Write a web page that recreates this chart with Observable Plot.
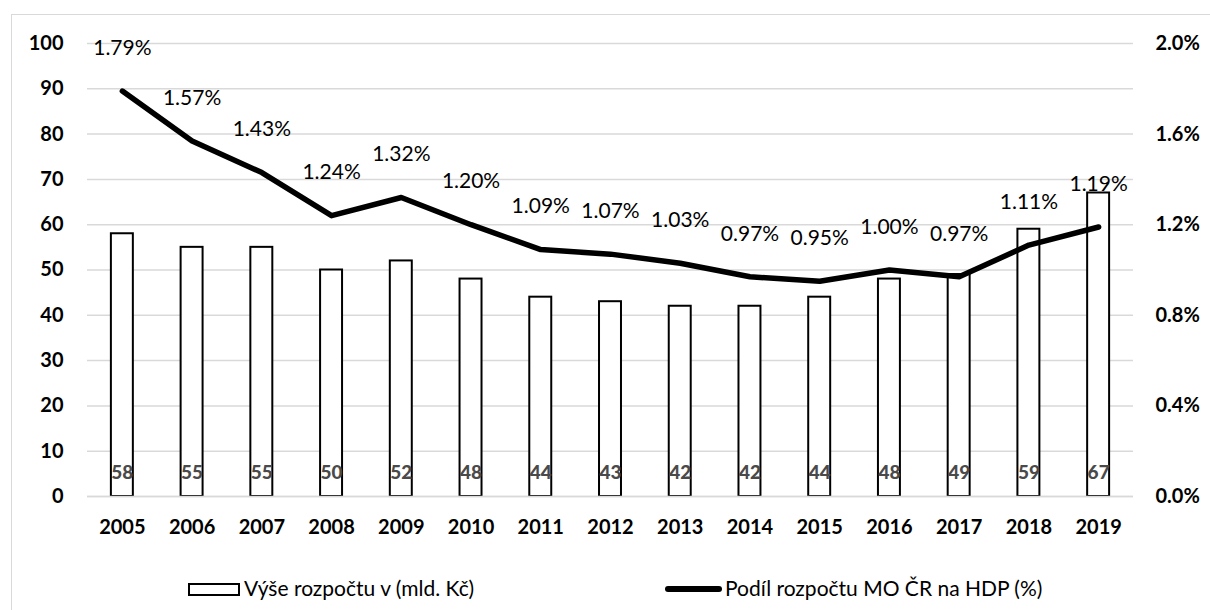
<!DOCTYPE html>
<html>
<head>
<meta charset="utf-8">
<script src="https://cdn.jsdelivr.net/npm/d3@7"></script>
<script src="https://cdn.jsdelivr.net/npm/@observablehq/plot@0.6"></script>
<style>
  html, body { margin: 0; padding: 0; background: #fff; width: 1210px; height: 610px; overflow: hidden; }
  body { position: relative; font-family: Lato, "Open Sans", sans-serif; }
  #frame { position: absolute; left: 11px; top: 14px; width: 1300px; height: 700px; border: 1px solid #d9d9d9; box-sizing: border-box; }
  #chart { position: absolute; left: 0; top: 0; }
  #legend { position: absolute; left: 0; top: 550px; width: 1210px; height: 60px; font-size: 21px; color: #000; }
  .lg-rect { position: absolute; left: 188px; top: 33px; width: 52px; height: 13px; border: 2px solid #000; box-sizing: border-box; background: #fff; }
  .lg-line { position: absolute; left: 665px; top: 36px; width: 57px; height: 6px; background: #000; border-radius: 3px; }
  .lg-text { position: absolute; top: 25px; line-height: 26px; white-space: nowrap; }
  .barlab { font-weight: 900; }
</style>
</head>
<body>
<div id="frame"></div>
<div id="chart"></div>
<div id="legend">
  <div class="lg-rect"></div><div class="lg-text" style="left:244px">Výše rozpočtu v (mld. Kč)</div>
  <div class="lg-line"></div><div class="lg-text" style="left:725px">Podíl rozpočtu MO ČR na HDP (%)</div>
</div>
<script>
const years = ["2005","2006","2007","2008","2009","2010","2011","2012","2013","2014","2015","2016","2017","2018","2019"];
const budget = [58, 55, 55, 50, 52, 48, 44, 43, 42, 42, 44, 48, 49, 59, 67];
const share = [1.79, 1.57, 1.43, 1.24, 1.32, 1.20, 1.09, 1.07, 1.03, 0.97, 0.95, 1.00, 0.97, 1.11, 1.19];
const leftTicks = [0, 10, 20, 30, 40, 50, 60, 70, 80, 90, 100];
const rightTicks = [0, 0.4, 0.8, 1.2, 1.6, 2.0];
const shareMax = 2.0, budgetMax = 100;
const k = budgetMax / shareMax;

const data = years.map((y, i) => ({year: y, budget: budget[i], share: share[i]}));

const chart = Plot.plot({
  width: 1210,
  height: 550,
  marginLeft: 87,
  marginRight: 77,
  marginTop: 43,
  marginBottom: 54,
  style: {fontFamily: "Lato, 'Open Sans', sans-serif", background: "transparent", color: "#000"},
  x: {domain: years, paddingInner: 0.685, paddingOuter: 0.3425, round: false, label: null},
  y: {domain: [0, budgetMax], label: null},
  marks: [
    Plot.gridY(leftTicks, {stroke: "#d9d9d9", strokeOpacity: 1, strokeWidth: 1.5}),
    Plot.barY(data, {x: "year", y: "budget", fill: "#fff", stroke: "#000", strokeWidth: 2}),
    Plot.ruleY([0], {stroke: "#d9d9d9", strokeWidth: 1.5}),
    Plot.text(data, {x: "year", y: () => 0, text: d => String(d.budget), dy: -24, fill: "#4a4a4a", fontWeight: 900, fontSize: 19, className: "barlab"}),
    Plot.line(data, {x: "year", y: d => d.share * k, stroke: "#000", strokeWidth: 5.5, strokeLinejoin: "round", strokeLinecap: "round"}),
    Plot.text(data, {x: "year", y: d => d.share * k, text: d => d.share.toFixed(2) + "%", dy: -43, fill: "#000", fontSize: 21}),
    Plot.axisX({tickSize: 0, tickPadding: 23, fontSize: 20, fontWeight: "bold", label: null}),
    Plot.axisY({anchor: "left", ticks: leftTicks, tickSize: 0, tickPadding: 24, fontSize: 20, fontWeight: "bold", label: null}),
    Plot.axisY({anchor: "right", ticks: rightTicks.map(t => t * k), tickFormat: d => (d / k).toFixed(1) + "%", tickSize: 0, tickPadding: 22, fontSize: 20, fontWeight: "bold", label: null})
  ]
});
document.getElementById("chart").appendChild(chart);
</script>
</body>
</html>
